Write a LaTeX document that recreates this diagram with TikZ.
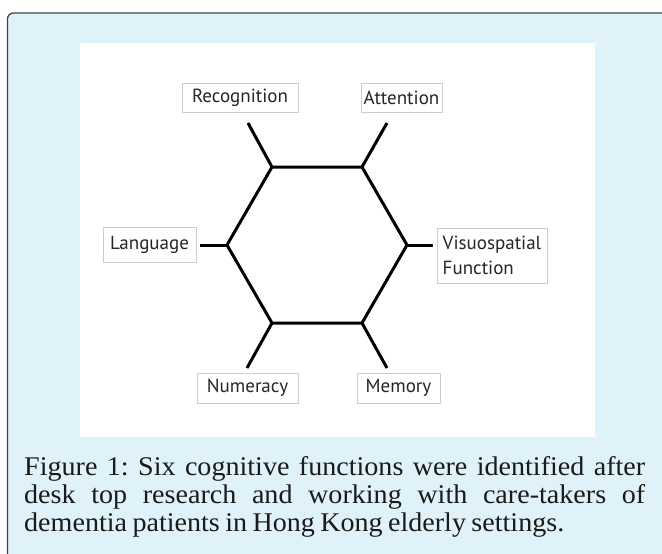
\documentclass[tikz,border=0pt]{standalone}
\usepackage{fontspec}
\setmainfont[FakeStretch=1.04]{Liberation Serif}
\newfontfamily\labelfont{PT Sans}
\definecolor{panelblue}{HTML}{DFF2F9}
\definecolor{framegray}{HTML}{444444}
\definecolor{captext}{HTML}{1A1A1A}
\begin{document}
\begin{tikzpicture}[x=1pt,y=-1pt,
  lbl/.style={draw=gray!40, line width=0.6pt, fill=white,
    font=\labelfont\fontsize{19}{25}\selectfont, text=black!85,
    inner sep=0pt},
  hexline/.style={line width=3pt, black, line join=miter},
  spoke/.style={line width=3pt, black}]
\clip (0,0) rectangle (662,554);
% outer frame
\path[fill=panelblue, draw=framegray, line width=1.3pt, rounded corners=6pt]
  (7.5,600) -- (7.5,13) -- (700,13) -- (700,600) -- cycle;
% white panel
\fill[white] (80,43) rectangle (595,437);
% hexagon vertices
\coordinate (tl) at (272,167);
\coordinate (tr) at (362,167);
\coordinate (r)  at (407,245);
\coordinate (br) at (362,323);
\coordinate (bl) at (272,323);
\coordinate (l)  at (227,245);
% spoke ends
\coordinate (etl) at (248,123);
\coordinate (etr) at (387,123);
\coordinate (er)  at (433,245);
\coordinate (ebr) at (387,368);
\coordinate (ebl) at (247,368);
\coordinate (el)  at (200,245);
\draw[hexline] (tl) -- (tr) -- (r) -- (br) -- (bl) -- (l) -- cycle;
\draw[spoke] (tl) -- (etl);
\draw[spoke] (tr) -- (etr);
\draw[spoke] (r) -- (er);
\draw[spoke] (br) -- (ebr);
\draw[spoke] (bl) -- (ebl);
\draw[spoke] (l) -- (el);
% labels
\node[lbl, minimum width=116pt, minimum height=29pt] (rec) at (240,97.5) {Recognition};
\node[lbl, minimum width=81pt, minimum height=29pt] (att) at (401.5,97.5) {Attention};
\node[lbl, minimum width=93pt, minimum height=35pt] (lang) at (149.5,244.5) {Language};
\node[lbl, minimum width=110pt, minimum height=55pt, align=left] (vis) at (492,255.5) {Visuospatial\\Function};
\node[lbl, minimum width=101pt, minimum height=30pt] (num) at (247.5,388) {Numeracy};
\node[lbl, minimum width=83pt, minimum height=30pt] (mem) at (398.5,388) {Memory};
% caption
\node[anchor=base west, inner sep=0pt, text=captext] (cap) at (24,475)
  {\parbox[t]{621pt}{\fontsize{27}{28}\selectfont\hyphenpenalty=10000
   \frenchspacing\spaceskip=0.2em plus 0.5em minus 0.05em
   Figure 1: Six cognitive functions were identified after\linebreak
   desk top research and working with care-takers of\linebreak
   dementia patients in Hong Kong elderly settings.\par}};
\end{tikzpicture}
\end{document}
